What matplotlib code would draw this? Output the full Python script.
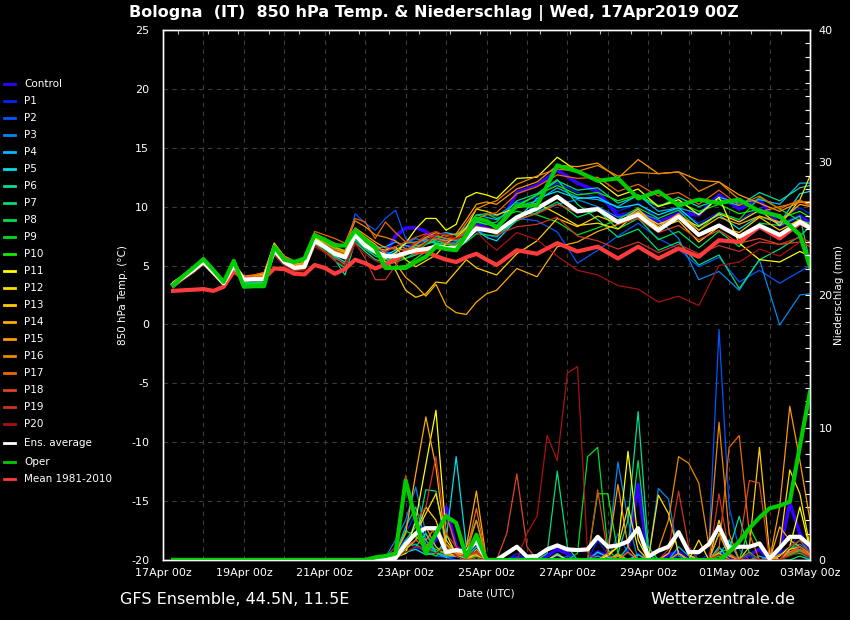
import matplotlib
matplotlib.use("Agg")
import matplotlib.pyplot as plt
from matplotlib.lines import Line2D
from matplotlib.ticker import MultipleLocator, FixedLocator

plt.rcParams["axes.unicode_minus"] = False

# ---------------- time axes (hours after 17Apr2019 00Z) ----------------
HOURS = list(range(6, 193, 6)) + list(range(198, 379, 12)) + [384]
PHOURS = [6] + list(range(120, 385, 6))

TICK_HOURS = [0, 48, 96, 144, 192, 240, 288, 336, 384]
TICK_LABELS = ["17Apr 00z", "19Apr 00z", "21Apr 00z", "23Apr 00z", "25Apr 00z",
               "27Apr 00z", "29Apr 00z", "01May 00z", "03May 00z"]

MEMBER_NAMES = ["Control"] + ["P%d" % i for i in range(1, 21)]
MEMBER_COLORS = ["#3300ff", "#0022ff", "#0055ff", "#0088ee", "#00bbff", "#00ddee",
                 "#00dd99", "#00dd77", "#00dd55", "#00dd22", "#11ee00", "#ffff00",
                 "#ffdd00", "#ffcc00", "#ffaa00", "#ff9900", "#ee8800", "#ee6600",
                 "#dd4422", "#cc3322", "#aa1111"]

# ---------------- 850 hPa temperature (degC) ----------------
T_CONTROL = [3.4,4.1,4.7,5.4,4.5,3.6,5.1,3.7,3.8,3.8,6.4,5.4,4.9,5.0,7.2,6.7,6.1,5.8,7.7,6.8,
             6.3,6.0,7.5,8.2,8.2,7.9,7.3,6.9,6.8,7.6,8.6,8.2,7.9,11.2,11.8,13.1,12.0,11.3,9.2,9.6,
             8.7,9.4,9.3,11.0,9.8,10.6,8.4,9.2,8.6]
T_P1 = [3.3,4.0,4.6,5.2,4.3,3.5,4.9,3.9,3.9,3.9,6.2,5.2,4.8,4.8,7.0,6.5,5.9,5.6,7.5,6.6,
        6.0,5.5,6.2,6.6,6.9,7.4,7.6,7.2,7.0,8.0,9.1,8.6,8.4,10.3,10.8,12.0,11.2,10.8,9.6,10.3,
        9.0,9.8,8.6,9.5,8.8,9.9,9.0,9.9,9.4]
T_P2 = [3.4,4.0,4.6,5.3,4.5,3.6,5.1,3.9,3.8,3.9,6.2,5.4,4.9,5.0,7.2,6.8,6.3,6.0,9.4,8.6,
        8.0,9.0,9.7,7.3,6.8,7.1,7.5,7.0,6.6,7.2,8.0,7.6,7.4,9.0,8.8,7.85,5.2,6.3,7.5,8.6,
        7.3,6.4,4.9,5.7,3.6,4.6,3.5,4.5,5.0]
T_P3 = [3.3,3.9,4.5,5.2,4.4,3.4,5.0,3.7,3.7,3.8,6.1,5.2,4.7,4.8,7.2,6.7,6.2,5.9,7.9,7.0,
        6.6,6.1,6.0,6.9,7.3,7.0,6.9,7.3,7.1,7.8,8.9,9.4,9.2,10.4,9.6,10.2,10.6,10.0,9.1,9.5,
        8.9,7.3,3.8,4.5,2.9,5.5,-0.05,2.5,2.6]
T_P4 = [3.5,4.1,4.7,5.4,4.5,3.5,5.0,3.9,4.0,4.0,6.3,5.3,4.9,5.0,7.1,6.6,6.1,5.8,7.5,6.8,
        6.5,6.6,7.0,6.7,6.5,6.9,7.6,7.8,7.6,8.3,9.3,9.1,8.9,10.0,10.5,11.6,10.8,10.6,10.0,11.0,
        9.6,9.9,9.4,10.8,10.3,10.6,10.2,12.0,12.0]
T_P5 = [3.2,3.9,4.5,5.2,4.3,3.4,4.9,3.6,3.6,3.7,6.0,5.1,4.7,4.8,6.9,6.4,5.8,5.3,7.4,6.6,
        6.2,5.9,6.3,6.9,7.0,7.2,6.9,6.6,6.7,7.5,8.0,7.4,7.1,8.9,10.7,11.3,10.7,10.8,9.9,10.2,
        9.3,9.9,8.4,9.3,8.1,9.2,8.6,11.1,11.3]
T_P6 = [3.1,3.8,4.4,5.1,4.2,3.3,4.8,3.4,3.4,3.5,5.9,5.0,4.6,4.7,6.8,6.2,5.5,4.2,7.0,6.2,
        5.5,5.3,5.8,6.2,6.7,6.8,7.2,7.7,7.6,8.1,8.9,8.8,8.4,10.1,11.0,12.2,11.4,11.6,10.3,10.9,
        10.0,10.8,10.0,10.6,10.1,11.2,10.5,11.6,11.8]
T_P7 = [3.3,3.9,4.5,5.3,4.4,3.5,5.0,3.5,3.5,3.6,6.0,5.2,4.6,4.7,6.9,6.2,5.4,4.8,7.2,6.4,
        5.8,5.5,5.7,5.6,5.9,6.3,6.8,6.9,6.9,7.8,8.8,8.5,8.7,10.5,11.1,12.3,10.2,8.9,7.4,8.1,
        6.3,7.0,5.05,5.9,3.05,5.5,6.4,7.5,8.3]
T_P8 = [3.4,4.0,4.7,5.5,4.5,3.5,5.1,3.5,3.5,3.6,6.2,5.3,4.8,4.9,7.0,6.4,5.7,5.1,7.5,6.4,
        6.0,5.2,5.4,5.9,6.4,6.8,7.1,6.9,6.5,7.0,7.7,7.6,7.5,8.8,9.5,10.4,9.1,9.7,8.1,9.0,
        7.2,7.9,6.5,7.9,6.6,8.6,8.4,9.2,5.2]
T_P9 = [3.5,4.1,4.8,5.5,4.6,3.6,5.2,3.4,3.4,3.5,6.4,5.4,5.0,5.2,7.3,6.9,6.4,6.1,7.8,7.0,
        6.4,5.0,5.3,5.6,6.1,6.8,7.5,7.3,7.1,8.2,9.3,9.4,9.0,9.6,9.3,8.7,7.6,8.2,8.9,9.9,
        9.0,9.7,8.0,9.5,8.9,10.8,9.8,8.8,8.6]
T_P10 = [3.4,4.1,4.8,5.5,4.6,3.6,5.2,3.3,3.3,3.4,6.5,5.5,5.1,5.3,7.5,7.0,6.5,6.3,7.9,7.1,
         6.5,4.9,4.9,5.0,5.6,6.2,6.9,6.8,6.7,7.7,8.7,8.5,8.3,10.0,11.0,11.8,11.0,11.2,10.5,11.0,
         10.1,10.4,9.6,10.2,9.4,9.8,9.0,9.6,9.1]
T_P11 = [3.6,4.2,4.9,5.5,4.6,3.7,5.2,4.0,4.1,4.2,6.9,5.7,5.1,5.1,7.4,6.8,6.2,5.9,7.7,6.9,
         6.2,5.6,6.1,6.9,8.1,9.0,9.0,8.0,8.5,10.8,11.2,11.0,10.7,12.4,12.5,14.2,13.0,12.2,10.9,11.5,
         10.0,10.6,9.3,10.8,6.9,5.5,5.3,6.2,5.8]
T_P12 = [3.5,4.1,4.7,5.4,4.5,3.6,5.1,4.0,4.1,4.3,6.8,5.6,5.0,5.1,7.2,6.6,6.2,6.0,7.8,7.1,
         6.5,6.3,6.6,5.5,4.9,5.4,5.9,6.9,7.4,8.2,9.8,9.6,9.3,9.9,10.3,9.4,8.4,8.6,8.1,9.5,
         8.5,9.2,8.3,9.4,8.7,9.7,8.4,10.6,12.6]
T_P13 = [3.5,4.1,4.7,5.4,4.5,3.6,5.1,4.0,4.1,4.2,6.7,5.6,5.1,5.2,7.3,6.8,6.3,6.1,7.9,7.2,
         6.4,5.3,4.6,2.9,2.3,2.6,3.6,3.5,4.5,5.5,4.8,4.5,4.2,6.0,7.1,9.0,8.3,9.2,8.6,9.8,
         8.2,8.8,7.0,8.3,7.8,9.1,8.0,8.9,8.4]
T_P14 = [3.6,4.2,4.8,5.4,4.6,3.7,5.2,4.1,4.2,4.4,6.9,5.8,5.3,5.4,7.6,7.1,6.6,6.2,8.1,7.4,
         6.8,6.0,5.2,4.0,3.3,2.4,3.4,1.6,1.0,0.85,1.9,2.6,2.9,4.75,4.05,6.6,7.0,7.9,8.5,9.6,
         8.3,9.4,8.0,9.1,8.5,9.2,8.7,10.2,10.0]
T_P15 = [3.4,4.0,4.6,5.3,4.5,3.6,5.1,3.9,4.0,4.1,6.5,5.6,5.1,5.2,7.5,7.0,6.5,6.2,8.2,7.6,
         7.0,6.5,6.4,6.3,6.8,7.4,7.8,7.5,7.7,8.9,10.2,10.4,10.2,11.5,12.1,13.5,13.4,13.7,12.4,14.0,
         12.8,12.95,12.25,12.1,11.0,10.3,9.6,10.4,10.4]
T_P16 = [3.5,4.1,4.7,5.3,4.5,3.6,5.1,4.0,4.1,4.2,6.6,5.5,5.0,5.1,7.6,7.3,6.9,6.6,8.8,8.3,
         7.6,7.4,7.1,6.4,6.5,7.0,7.3,7.1,7.4,8.6,9.8,10.2,10.5,11.9,12.6,13.2,13.0,13.5,12.6,12.9,
         12.8,12.95,11.3,12.1,10.6,9.55,10.0,10.4,10.2]
T_P17 = [3.4,4.0,4.6,5.2,4.4,3.5,5.0,4.0,4.2,4.4,6.6,5.8,5.4,5.5,7.9,7.6,7.3,6.9,9.0,8.7,
         7.3,8.7,7.8,7.0,6.9,7.3,7.6,7.3,7.2,8.0,9.0,9.3,9.5,11.1,11.7,12.7,12.4,12.5,11.3,11.9,
         10.9,11.2,10.2,11.4,10.1,10.9,9.8,10.6,10.0]
T_P18 = [3.3,3.9,4.5,5.2,4.3,3.4,4.9,3.9,3.9,4.0,6.2,5.4,4.8,4.9,7.1,6.8,6.3,6.0,7.6,7.0,
         6.5,6.2,6.6,7.0,7.4,7.7,7.3,6.9,6.8,7.4,8.3,8.2,8.0,8.9,9.4,10.2,9.5,9.8,8.5,9.0,
         7.8,8.4,7.2,8.0,6.9,7.3,6.8,7.0,6.6]
T_P19 = [3.2,3.8,4.4,5.1,4.2,3.3,4.8,3.8,3.8,3.8,6.0,5.1,4.6,4.7,6.8,6.2,5.6,5.2,7.0,5.6,
         3.8,3.8,5.0,6.3,6.9,7.6,7.9,7.5,7.2,7.7,8.4,8.0,7.6,8.3,8.5,9.1,7.5,7.1,6.4,7.0,
         6.1,6.8,6.0,6.7,6.2,7.0,6.8,7.4,7.0]
T_P20 = [3.2,3.8,4.4,5.1,4.2,3.3,4.8,3.7,3.7,3.7,5.9,5.0,4.5,4.6,6.6,6.1,5.4,5.0,6.8,6.0,
         5.4,5.1,5.6,6.0,6.3,6.9,7.6,7.7,7.3,7.5,7.9,7.0,6.3,7.8,7.2,5.8,4.6,4.2,3.3,3.0,
         1.9,2.4,1.6,5.0,5.3,6.4,5.8,7.0,6.8]

T_ENS = [3.4,4.0,4.6,5.3,4.4,3.5,5.0,3.8,3.85,3.85,6.3,5.3,4.8,4.9,7.1,6.6,6.0,5.7,7.6,6.7,
         6.2,5.8,5.8,6.05,6.3,6.4,6.6,6.5,6.45,7.3,8.15,8.0,7.85,9.1,9.85,10.85,9.6,9.8,8.7,9.3,
         8.0,9.15,7.6,8.4,7.45,8.4,7.6,8.7,8.2]
T_OPER = [3.35,4.1,4.8,5.55,4.6,3.6,5.4,3.2,3.25,3.25,6.6,5.5,5.3,5.6,7.6,7.2,6.7,6.7,8.0,7.2,
          6.5,4.8,4.8,4.8,5.3,5.75,6.6,6.4,6.3,7.6,9.0,8.8,8.2,10.1,10.1,13.5,13.0,12.2,12.4,10.7,
          11.3,10.1,10.6,10.3,10.6,9.6,9.2,7.6,4.9]
T_MEAN = [2.85,2.9,2.95,3.0,2.85,3.2,4.5,3.9,3.9,3.9,4.75,4.7,4.3,4.25,5.05,4.8,4.3,4.7,5.5,5.2,
          4.75,5.1,5.5,6.2,6.1,6.2,5.8,5.5,5.3,5.7,6.0,5.5,5.05,6.3,6.0,6.9,6.2,6.6,5.6,6.6,
          5.6,6.45,5.75,7.15,7.0,8.3,7.3,8.6,8.2]

# ---------------- precipitation (mm) ----------------
P_CONTROL = [0,0,0,0.1,0.3,1.5,1.0,0.8,1.5,4.0, 1.0,0.5,0.3,0,0,0,0.2,0,0,0.3,
             0.8,0.5,0,0,0.6,0.3,0,0.8,5.7,0, 0,0.4,0.6,0,0,0,0.5,0.3,0,0.4, 0.8,0,0.6,4.3,2.0,0.8]
P_P1 = [0,0,0,0.1,0.4,2.0,3.5,1.2,0.5,0.3, 0.2,0.3,1.0,0,0,0,0.5,0,0,0,
        0.3,0,0,0,1.5,0.4,0,0,0.5,0, 0,0,0.3,0,0,0.4,3.0,0.5,0,0.3, 0,0,0.5,1.0,2.0,0.5]
P_P2 = [0,0,0,0,0.3,1.0,3.0,0.8,0.3,0.2, 0,0,0.4,0,0,0,0,0,0,0,
        0,0.3,0,0,0,0,2.0,0.5,0,0, 0,0,0,0,0.5,1.2,17.4,4.0,0.8,0, 0,0,0,0.4,0.6,0]
P_P3 = [0,0,0,0.2,1.5,3.0,5.5,2.0,1.0,0.3, 0.5,0,0.3,0,0,0,0,0,0,0,
        0.4,0,0,0,0,0.5,7.4,3.0,0,0, 5.4,4.6,0.3,0,0,0,0.5,0,0,0, 0,0.3,0,0.8,1.2,0.6]
P_P4 = [0,0,0,0.1,0.5,2.5,4.0,1.5,0.5,0.2, 0.3,0.2,1.0,0,0,0,0,0,0,0,
        0.5,0,0,0,0.3,0,0,0,0,0, 0,0,1.0,0.3,0,0,0.4,1.5,0,0, 0.3,0,0,0.5,1.0,0.4]
P_P5 = [0,0,0,0,0.2,0.6,0.8,0.4,0.5,1.5, 7.8,1.0,3.0,0,0,0,0,0,0,0,
        0,0,0,0,0.6,0.2,0,0,0.4,0, 0,0,0,0,0,0,1.0,0,0,0.5, 0,0,0,0.6,0.8,0.3]
P_P6 = [0,0,0,0.1,0.3,0.5,1.0,2.0,0.6,0.3, 0.5,0,0.6,0,0,0,0,0,0,0,
        0,0,0,0,0,0,0.5,3.0,11.2,1.0, 0,0,0,0,0,0,0.6,0.8,3.3,0.5, 0,0,0,0.5,0.7,0.2]
P_P7 = [0,0,0,0,0.2,0.8,1.5,5.3,5.2,1.0, 0.4,0,0.3,0,0,0,0,0,0,0.5,
        6.7,1.0,0,0,0,0,0,0,0,0, 0,0,0.5,0,0,0,0,0,0,0, 0,0,0,0,0.3,0]
P_P8 = [0,0,0,0.1,0.4,1.5,2.5,1.2,0.8,0.5, 0.3,0,0,0,0,0,0,0,0,0,
        0,0,0,0,0,0,0,1.0,7.5,0.4, 0,0,0,0,0,0,2.0,0.4,0,0, 0,0,0.4,0.8,1.5,0.5]
P_P9 = [0,0,0,0.1,0.3,1.0,1.2,0.6,0.3,0.8, 0.5,0,0.5,0,0,0,0,0,0,0,
        0,0,0.5,7.8,8.5,0.8,0,0,0,0, 0,0,0,0,0,0,0.5,0,0,0.6, 0,0,0,0.4,0.5,0.2]
P_P10 = [0,0,0,0.2,0.5,2.2,1.8,1.0,0.5,1.2, 0.4,0,0.3,0,0,0,0,0,0,0,
         0,0,0,0,5.0,5.0,0.5,0,0,0, 0,0,0,0,0,0,0.3,0,0,2.5, 1.0,0,0,0.4,0.6,0.2]
P_P11 = [0,0,0,0,0.2,0.5,3.0,7.2,11.3,2.0, 0.4,0,0.2,0,0,0,0,0,0,0,
         0,0,0,0,0,0.4,1.0,8.2,1.5,0, 0,0,0,0,0,0,0.5,0,0,0, 0,0,0.3,1.0,4.0,0.8]
P_P12 = [0,0,0,0,0.3,1.0,2.0,3.5,5.0,1.5, 0.5,0.3,0.4,0,0,0,0,0,0,0,
         0.4,0,0,0,0,0.3,1.0,4.0,0.8,0, 4.9,3.5,0.5,0,1.5,0,0.5,0,0,0, 0,0,1.0,6.8,5.0,1.0]
P_P13 = [0,0,0,0.1,0.4,1.0,2.0,4.0,3.0,0.6, 0.3,0,0.5,0,0,0,0,0,0,0,
         0,0,0,0,0,0,0.3,0,0,0, 0,0.5,2.0,0.4,0,0,3.0,0.5,0,1.0, 8.5,0.5,0,0.8,1.0,0.4]
P_P14 = [0,0,0,0.2,0.5,2.0,6.5,10.8,7.0,1.0, 0.5,1.0,5.2,0,0,0,0,0,0,0,
         0,0,0,0,0,0,0.4,0,0,0, 0,0,0,0,0,0,2.0,0.3,0,0, 0,0,2.5,1.5,1.0,0.3]
P_P15 = [0,0,0,0,0.2,0.8,1.5,2.5,1.0,0.4, 0.3,0,0.8,0,0,0,0,0,0,0,
         0,0,0,0,0,0.5,5.7,1.0,0,0, 0,0,0.5,0,0,0,0.5,0,0,0, 0,0,4.0,11.6,7.5,3.0]
P_P16 = [0,0,0,0.1,0.3,1.2,2.0,1.5,2.5,1.2, 0.5,0.5,3.0,0,0,0,0,0,0,0,
         0,0,0,0,0,0,0.3,0,0,0.4, 0.8,3.0,7.8,7.3,5.8,1.0,10.4,2.0,0,0, 0,0,0.4,0.6,1.0,0.5]
P_P17 = [0,0,0,0,0.3,1.0,1.5,1.0,2.0,3.5, 1.0,0.4,3.9,0,0,0,0,0,0,0,
         0,0,0,0,0,0,0,0.6,0,0, 0,0,0,0,0,0,0.8,8.5,9.4,2.0, 0,0,0,0.5,0.8,0.2]
P_P18 = [0,0,0,0.1,0.4,1.2,2.0,2.5,2.0,0.8, 0.4,0.3,0.5,0,0,2.0,6.5,1.0,0,0,
         0,0,0,0,5.3,0.4,0,0,0,0, 0,0,0,0,0,0,0,0.5,1.0,6.0, 5.8,0,0,0.5,1.0,0.3]
P_P19 = [0,0,0,0.2,1.0,6.4,3.0,4.0,7.8,2.0, 1.0,0.4,0.6,0,0,0,0,0,0,0,
         0,0,0,0,0,0,0,0,0,0, 0,0.8,5.2,1.0,0,0,5.0,0.5,0,0, 0,0,0,1.0,1.5,0.5]
P_P20 = [0,0,0,0,0.2,0.6,1.0,0.8,0.5,1.0, 0.3,0,0.2,0,0,0,0,2.0,3.3,9.4,
         7.5,14.1,14.6,0.5,0,0,0,0,0,0, 0,0,0,0,0,0,0.4,0,0,0.5, 0,0,0,0.3,0.6,0.2]

P_ENS = [0,0,0.02,0.05,0.15,1.2,2.0,2.4,2.4,0.6, 0.75,0.6,1.4,0,0,0.5,1.0,0.25,0.3,0.8,
         1.1,0.8,0.75,0.8,1.75,1.0,1.1,1.4,2.4,0.25, 0.7,1.0,2.1,0.6,0.6,1.2,2.5,0.9,1.0,1.0,
         1.25,0.1,0.9,1.75,1.75,1.1]
P_OPER = [0,0,0.2,0.3,0.5,6.0,3.0,0.5,2.0,3.3, 2.8,0.25,1.9,0,0,0,0,0,0,0,
          0,0,0,0,0,0,0,0,0,0, 0,0,0,0,0,0,0,0.6,1.4,2.4, 3.2,3.9,4.1,4.4,8.6,12.7]

MEMBER_T = [T_CONTROL, T_P1, T_P2, T_P3, T_P4, T_P5, T_P6, T_P7, T_P8, T_P9, T_P10,
            T_P11, T_P12, T_P13, T_P14, T_P15, T_P16, T_P17, T_P18, T_P19, T_P20]
MEMBER_P = [P_CONTROL, P_P1, P_P2, P_P3, P_P4, P_P5, P_P6, P_P7, P_P8, P_P9, P_P10,
            P_P11, P_P12, P_P13, P_P14, P_P15, P_P16, P_P17, P_P18, P_P19, P_P20]

ENS_COLOR = "#ffffff"
OPER_COLOR = "#00cc00"
MEAN_COLOR = "#ff3b3b"

# ---------------- figure ----------------
W, H = 850, 620
fig = plt.figure(figsize=(W / 100, H / 100), dpi=100, facecolor="black")
ax = fig.add_axes([163 / W, 60 / H, 647 / W, 530 / H])
ax.set_facecolor("black")
ax.set_xlim(0, 384)
ax.set_ylim(-20, 25)

ax2 = ax.twinx()
ax2.set_ylim(0, 40)

# temperature spaghetti
for i, (vals, col) in enumerate(zip(MEMBER_T, MEMBER_COLORS)):
    ax.plot(HOURS, vals, color=col, lw=2.6 if i == 0 else 0.9, zorder=2)
ax.plot(HOURS, T_MEAN, color=MEAN_COLOR, lw=3.0, zorder=3)
ax.plot(HOURS, T_ENS, color=ENS_COLOR, lw=3.0, zorder=4)
ax.plot(HOURS, T_OPER, color=OPER_COLOR, lw=3.0, zorder=5)

# precipitation spaghetti
for i, (vals, col) in enumerate(zip(MEMBER_P, MEMBER_COLORS)):
    ax2.plot(PHOURS, vals, color=col, lw=2.6 if i == 0 else 0.9, zorder=2)
ax2.plot(PHOURS, P_ENS, color=ENS_COLOR, lw=3.0, zorder=4)
ax2.plot(PHOURS, P_OPER, color=OPER_COLOR, lw=3.0, zorder=5)

# grid
ax.xaxis.set_major_locator(FixedLocator(TICK_HOURS))
ax.xaxis.set_minor_locator(MultipleLocator(24))
ax.set_xticklabels(TICK_LABELS)
ax.yaxis.set_major_locator(MultipleLocator(5))
grid_kw = dict(color="#3c3c3c", linestyle=(0, (4, 4)), linewidth=0.8)
ax.xaxis.grid(True, which="both", **grid_kw)
ax.yaxis.grid(True, which="major", **grid_kw)
ax.set_axisbelow(True)

ax.tick_params(axis="both", which="both", length=0, colors="white", labelsize=8, pad=6)
ax.tick_params(axis="y", pad=10)
ax2.yaxis.set_major_locator(MultipleLocator(10))
ax2.yaxis.set_minor_locator(MultipleLocator(1))
ax2.tick_params(axis="y", which="both", direction="in", length=3.5, width=0.8,
                colors="white", labelsize=8, pad=6)

top = ax.twiny()
top.set_xlim(0, 384)
top.xaxis.set_major_locator(FixedLocator([9 + 17.9 * k for k in range(21)]))
top.tick_params(axis="x", direction="in", length=3, width=0.8, colors="#bbbbbb", labeltop=False)

for a in (ax, ax2, top):
    for s in a.spines.values():
        s.set_color("white")
        s.set_linewidth(0.9)

ax.set_ylabel("850 hPa Temp. (°C)", color="white", fontsize=7.5, labelpad=2)
ax2.set_ylabel("Niederschlag (mm)", color="white", fontsize=7.5, labelpad=1)
ax.set_xlabel("Date (UTC)", color="white", fontsize=7.5, labelpad=7)

fig.text(434 / W, 1 - 13 / H, "Bologna  (IT)  850 hPa Temp. & Niederschlag | Wed, 17Apr2019 00Z",
         color="white", fontsize=11.5, fontweight="bold", ha="center", va="center")
fig.text(120 / W, 1 - 600 / H, "GFS Ensemble, 44.5N, 11.5E", color="white",
         fontsize=11.5, ha="left", va="center")
fig.text(795 / W, 1 - 600 / H, "Wetterzentrale.de", color="white",
         fontsize=11.5, ha="right", va="center")

# legend (left column)
legend_names = MEMBER_NAMES + ["Ens. average", "Oper", "Mean 1981-2010"]
legend_colors = MEMBER_COLORS + [ENS_COLOR, OPER_COLOR, MEAN_COLOR]
legend_y = [84 + 17 * k for k in range(21)] + [443, 462, 479]
for name, col, yy in zip(legend_names, legend_colors, legend_y):
    fy = 1 - yy / H
    fig.add_artist(Line2D([4 / W, 15 / W], [fy, fy], transform=fig.transFigure,
                          color=col, lw=2.0))
    fig.text(24 / W, fy, name, color="white", fontsize=7.5, ha="left", va="center")

fig.savefig("out.png", dpi=100, facecolor="black")
